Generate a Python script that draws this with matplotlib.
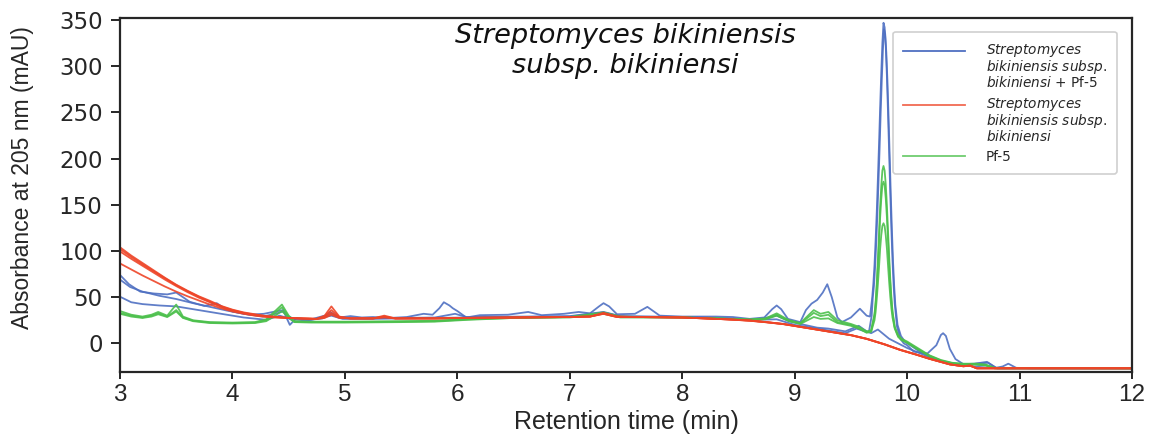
import matplotlib
matplotlib.use("Agg")
import numpy as np
import matplotlib.pyplot as plt
from matplotlib.lines import Line2D
from matplotlib.legend_handler import HandlerLine2D

# ---------------- data ----------------
red_t = [3.0, 3.1, 3.2, 3.3, 3.4, 3.5, 3.6, 3.7, 3.8, 3.9, 4.0, 4.1, 4.2, 4.3, 4.4, 4.5, 4.6,
         4.75, 4.82, 4.88, 4.95, 5.05, 5.25, 5.35, 5.45, 5.8, 6.0,
         6.5, 7.0, 7.18, 7.3, 7.42, 7.6, 8.0, 8.2, 8.4, 8.6,
         8.75, 8.9, 9.05, 9.2, 9.35, 9.5, 9.64, 9.8, 9.94, 10.08,
         10.2, 10.38, 10.5, 10.56, 10.62, 12.0]
red_1 = [104, 95, 87, 79, 71, 63.5, 57, 51, 46, 40.5, 36.5, 33.5, 31.5, 29.5, 28.5, 27.5, 27,
         26.5, 30, 40, 29, 27, 27, 30, 27, 27, 27.5,
         28, 28.5, 29, 33, 29, 28.5, 28, 27, 26, 24.8,
         23, 21, 18, 15, 12, 9, 5, -1, -7, -12,
         -16.6, -22.7, -24.8, -24, -27, -27]
red_2 = [102, 93.5, 85.5, 78, 70.5, 63, 56.5, 50.5, 45, 40, 36, 33, 31, 29.5, 28.5, 27.5, 27,
         26.5, 29, 36, 28.5, 27, 27, 29, 27, 27, 27.5,
         28, 28.5, 29, 32.5, 29, 28.5, 28, 27, 26, 24.8,
         23, 21, 18, 15, 12, 9, 5, -1, -7, -12,
         -16.6, -22.7, -24.8, -24, -27, -27]
red_3 = [99.5, 91.5, 84, 76.5, 69, 62, 55.5, 49.5, 44.5, 39.5, 35.5, 32.5, 30.5, 29, 28, 27.5, 27,
         26.5, 28, 33, 28, 27, 27, 28.5, 27, 27, 27.5,
         28, 28.5, 29, 32, 28.5, 28.5, 28, 27, 26, 24.5,
         22.8, 20.8, 17.8, 14.8, 11.8, 8.8, 4.8, -1.2, -7.2, -12.2,
         -16.8, -22.8, -24.8, -24.2, -27, -27]
red_4 = [86.5, 80, 73.5, 67.5, 61.5, 56, 51, 46.5, 42, 38, 34.5, 32, 30, 28.5, 28, 27.5, 27,
         26.5, 27.5, 31, 27.5, 27, 27, 28, 27, 27, 27.5,
         28, 28.5, 29, 32, 28.5, 28.5, 28, 27, 26, 24.5,
         22.8, 20.8, 17.8, 14.8, 11.8, 8.8, 4.8, -1.2, -7.2, -12.2,
         -16.8, -22.8, -24.8, -24.2, -27, -27]

green_t = [3.0, 3.1, 3.2, 3.28, 3.34, 3.42, 3.5, 3.56, 3.65, 3.8,
           4.0, 4.2, 4.3, 4.38, 4.44, 4.5, 4.55, 4.7, 5.0, 5.5,
           5.8, 6.1, 6.5, 7.0, 7.3, 7.45, 8.0, 8.3, 8.6, 8.74,
           8.84, 8.95, 9.05, 9.17, 9.23, 9.3, 9.38, 9.5, 9.57, 9.64,
           9.68, 9.71, 9.72, 9.73, 9.74, 9.75, 9.76, 9.77, 9.78, 9.79, 9.80,
           9.81, 9.82, 9.83, 9.84, 9.85, 9.86, 9.87, 9.89, 9.92, 9.95, 10.0,
           10.08, 10.2, 10.3, 10.4, 10.5, 10.62, 10.7, 10.78, 12.0]
green_1 = [35, 31, 29, 31, 34, 30, 42, 29, 25, 23,
           22.5, 23, 26, 35, 42, 30, 24, 23.5, 23.5, 24,
           24.5, 26.5, 28, 28.5, 33.5, 29, 28, 27, 26, 27,
           32.5, 25, 22, 36, 32, 34, 25, 21, 18, 13,
           14, 32, 45, 65, 90, 118, 148, 170, 187, 192, 187,
           172, 150, 122, 95, 70, 50, 35, 18, 9, 5, 2,
           -4, -13, -18, -21, -22, -22, -23, -26.5, -27]
green_2 = [33, 30, 28, 30, 32.5, 29, 36, 28, 24.5, 22.5,
           22, 22.5, 25, 33, 39, 29, 23.5, 23, 23, 23.5,
           24, 26, 27.5, 28.5, 32.5, 28.5, 28, 27, 25.5, 26.5,
           31, 24.5, 21.5, 33, 29.5, 31, 23, 20, 16.5, 12,
           13, 30, 42, 60, 83, 108, 136, 156, 171, 175, 171,
           157, 137, 112, 87, 65, 47, 33, 17, 8, 4, 1,
           -5, -13.5, -18.5, -21.5, -22.5, -22.5, -23.5, -27, -27]
green_3 = [32, 29, 27.5, 29, 31.5, 28.5, 34.5, 27.5, 24, 22,
           21.5, 22, 24, 30, 35, 28, 23, 22.5, 22.5, 23,
           23.5, 25.5, 27.5, 28, 32, 28, 28, 27, 25.5, 26,
           30, 24, 21, 28.5, 26.5, 27, 22, 19, 16, 11.5,
           12.5, 25, 34, 48, 64, 82, 102, 117, 127, 130, 127,
           117, 103, 85, 67, 51, 38, 28, 16, 7, 3.5, 0.5,
           -5.5, -14, -19, -22, -23, -23, -24, -27, -27]

blue_1 = [(3.00, 74), (3.08, 64), (3.18, 56), (3.30, 54), (3.42, 53), (3.50, 55), (3.56, 50),
          (3.62, 45), (3.75, 40.5), (3.86, 43.5), (3.93, 38), (4.00, 34.5), (4.15, 31), (4.28, 32),
          (4.38, 34.5), (4.45, 36), (4.51, 20), (4.57, 27.5), (4.69, 25.5), (4.80, 27), (4.87, 34),
          (4.95, 28), (5.05, 29.5), (5.15, 28), (5.25, 28.5), (5.40, 27.5), (5.55, 28.5), (5.70, 32),
          (5.78, 31), (5.84, 38), (5.88, 44.5), (5.93, 41), (5.96, 38), (6.00, 35), (6.08, 28),
          (6.20, 30.5), (6.45, 31), (6.63, 34), (6.75, 30.5), (6.95, 32), (7.08, 34), (7.18, 32.5),
          (7.26, 40), (7.30, 43.5), (7.35, 40), (7.42, 31.5), (7.58, 32), (7.69, 39.5), (7.80, 30),
          (8.00, 29), (8.30, 29), (8.45, 28.5), (8.60, 26.5), (8.73, 28), (8.80, 37), (8.84, 41),
          (8.88, 37), (8.94, 26.5), (9.05, 23), (9.10, 36), (9.15, 43), (9.20, 47), (9.25, 55),
          (9.29, 64), (9.33, 50), (9.38, 28), (9.42, 23), (9.50, 28), (9.58, 37.5), (9.64, 30),
          (9.67, 29), (9.69, 50), (9.70, 65), (9.71, 85), (9.72, 112), (9.73, 142), (9.74, 178),
          (9.75, 215), (9.76, 255), (9.77, 292), (9.78, 325), (9.79, 347), (9.80, 342), (9.81, 322),
          (9.82, 290), (9.83, 250), (9.84, 207), (9.85, 163), (9.86, 124), (9.87, 90), (9.88, 63),
          (9.89, 43), (9.91, 18), (9.94, 5), (9.97, 0), (10.00, -2), (10.06, -9), (10.18, -11),
          (10.26, -2), (10.30, 9), (10.32, 11), (10.345, 8), (10.38, -6), (10.43, -17),
          (10.50, -22.5), (10.60, -22), (10.71, -20), (10.79, -26.5), (10.85, -25), (10.90, -22),
          (10.97, -26.5), (11.10, -27), (12.00, -27)]
blue_2 = [(3.00, 69), (3.09, 61), (3.20, 56), (3.35, 51.5), (3.50, 48), (3.65, 43.5), (3.80, 39.5),
          (3.95, 35.5), (4.10, 32), (4.27, 29), (4.38, 32), (4.45, 34.5), (4.50, 29), (4.56, 26),
          (4.70, 26), (4.88, 32), (4.97, 27.5), (5.20, 27), (5.50, 27.5), (5.80, 28), (5.98, 32),
          (6.08, 28.5), (6.60, 29), (7.00, 29.5), (7.30, 34), (7.45, 29.5), (8.00, 28.5),
          (8.40, 27), (8.65, 25), (8.84, 30), (8.95, 24), (9.05, 21), (9.20, 17), (9.30, 16),
          (9.45, 13), (9.57, 19), (9.64, 13), (9.68, 11), (9.74, 15), (9.78, 11), (9.84, 5),
          (9.92, 0), (10.00, -5), (10.10, -10), (10.20, -15), (10.30, -19), (10.40, -21.5),
          (10.50, -23), (10.62, -22), (10.72, -21), (10.80, -27), (12.00, -27)]
blue_3 = [(3.00, 50.5), (3.10, 44.5), (3.20, 42.5), (3.35, 41), (3.50, 40), (3.65, 37), (3.80, 34),
          (3.95, 31), (4.10, 28), (4.30, 25.5), (4.42, 30), (4.50, 27), (4.56, 23.5), (4.70, 25.5),
          (4.88, 30), (4.98, 26.5), (5.20, 26.5), (5.50, 27), (5.80, 27.5), (6.08, 28), (6.50, 28.5),
          (7.00, 29), (7.30, 33.5), (7.45, 29), (8.00, 28.5), (8.40, 27), (8.60, 25.5), (8.84, 26),
          (9.00, 20), (9.15, 17), (9.30, 14), (9.45, 11), (9.55, 16), (9.60, 14), (9.66, 12),
          (9.685, 30), (9.695, 50), (9.705, 62), (9.715, 82), (9.725, 108), (9.735, 138),
          (9.745, 173), (9.755, 210), (9.765, 250), (9.775, 286), (9.785, 318), (9.795, 340),
          (9.805, 335), (9.815, 315), (9.825, 284), (9.835, 245), (9.845, 203), (9.855, 160),
          (9.865, 122), (9.875, 88), (9.885, 62), (9.895, 42), (9.915, 20), (9.945, 8), (9.98, 2),
          (10.10, -8), (10.20, -14), (10.30, -19), (10.40, -22), (10.50, -24),
          (10.60, -25), (10.70, -24), (10.80, -27), (12.00, -27)]

x_ticks = [3, 4, 5, 6, 7, 8, 9, 10, 11, 12]
y_ticks = [0, 50, 100, 150, 200, 250, 300, 350]

label_blue = ("$\\mathit{Streptomyces}$\n$\\mathit{bikiniensis\\ subsp.}$\n"
              "$\\mathit{bikiniensi}$ + Pf-5")
label_red = "$\\mathit{Streptomyces}$\n$\\mathit{bikiniensis\\ subsp.}$\n$\\mathit{bikiniensi}$"
label_green = "Pf-5"
title_text = "Streptomyces bikiniensis\nsubsp. bikiniensi"

# ---------------- style ----------------
plt.rcParams["font.family"] = ["DejaVu Sans"]
plt.rcParams["mathtext.fontset"] = "dejavusans"

C_BLUE = "#4f70c2"
C_RED = "#ee4528"
C_GREEN = "#4cc04c"
DARK = "#262626"

fig = plt.figure(figsize=(11.52, 4.34), dpi=100)
ax = fig.add_axes([120 / 1152, 1 - 372 / 434, 1012 / 1152, (372 - 17.7) / 434])

lw = 1.3
for pts in (blue_1, blue_2, blue_3):
    t, v = zip(*pts)
    ax.plot(t, v, color=C_BLUE, lw=lw, alpha=0.9)
for vals in (green_1, green_2, green_3):
    ax.plot(green_t, vals, color=C_GREEN, lw=lw, alpha=0.9)
for vals in (red_1, red_2, red_3, red_4):
    ax.plot(red_t, vals, color=C_RED, lw=lw, alpha=0.9)

ax.set_xlim(3, 12)
ax.set_ylim(-31, 352.5)
ax.set_xticks(x_ticks)
ax.set_yticks(y_ticks)

for s in ax.spines.values():
    s.set_color(DARK)
    s.set_linewidth(1.6)

ax.tick_params(axis="y", direction="out", length=6.5, width=1.4, color=DARK,
               labelsize=16.5, labelcolor=DARK, pad=6)
ax.tick_params(axis="x", direction="out", length=5, width=1.4, color=DARK,
               labelsize=17.5, labelcolor=DARK, pad=3.5)
for lab in ax.get_xticklabels():
    lab.set_family(["Liberation Sans", "DejaVu Sans"])

ax.set_xlabel("Retention time (min)", family=["Liberation Sans", "DejaVu Sans"],
              fontsize=18, color=DARK, labelpad=3)
ax.set_ylabel("Absorbance at 205 nm (mAU)", family=["Liberation Sans", "DejaVu Sans"],
              fontsize=16.5, color=DARK)
ax.yaxis.set_label_coords(-0.085, 0.548)

ax.text(0.499, 0.906, title_text, transform=ax.transAxes, ha="center", va="center",
        fontsize=19.6, style="italic", color="#111111", linespacing=1.2)


class TopLineHandler(HandlerLine2D):
    """Line handle raised so that it sits beside the first line of a multi-line label."""

    def __init__(self, shift=0.0, **kw):
        super().__init__(**kw)
        self.shift = shift

    def create_artists(self, legend, orig_handle, xdescent, ydescent, width, height,
                       fontsize, trans):
        arts = super().create_artists(legend, orig_handle, xdescent, ydescent, width,
                                      height, fontsize, trans)
        for a in arts:
            a.set_ydata(np.asarray(a.get_ydata(), float) + self.shift)
        return arts


h_blue = Line2D([], [], color=C_BLUE, lw=1.3)
h_red = Line2D([], [], color=C_RED, lw=1.3, alpha=0.8)
h_green = Line2D([], [], color=C_GREEN, lw=1.3, alpha=0.8)
leg = ax.legend([h_blue, h_red, h_green], [label_blue, label_red, label_green],
                loc="upper right", bbox_to_anchor=(0.985, 0.9605), borderaxespad=0,
                fontsize=9.8, handlelength=4.5, handletextpad=1.55, borderpad=0.75,
                labelspacing=0.42, frameon=True, fancybox=True, framealpha=1,
                handler_map={h_blue: TopLineHandler(shift=11.5),
                             h_red: TopLineHandler(shift=11.5),
                             h_green: TopLineHandler(shift=0.0)})
leg.get_frame().set_edgecolor("#d0d0d0")
leg.get_frame().set_linewidth(1.2)
for txt in leg.get_texts():
    txt.set_color("#262626")
    txt.set_linespacing(0.93)

fig.savefig("out.png", dpi=100)
